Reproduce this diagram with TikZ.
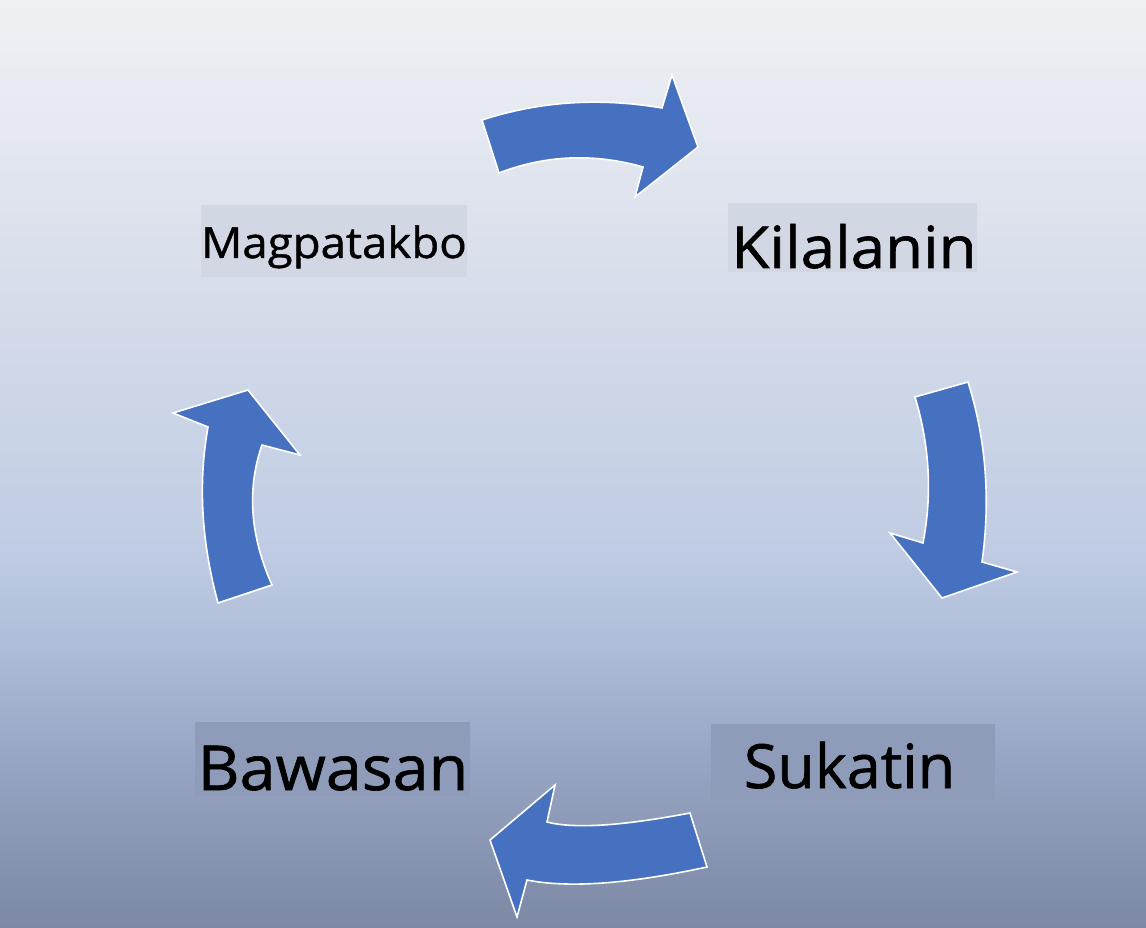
\documentclass[tikz,border=0pt]{standalone}
\usepackage{fontspec}
\setmainfont{Open Sans}
\newfontfamily\lblfont{Open Sans}[FakeBold=1.0]
\definecolor{arrowblue}{RGB}{70,113,192}
\definecolor{boxtop}{RGB}{210,215,228}
\definecolor{boxbot}{RGB}{142,156,186}
\pgfdeclareverticalshading{bgshade}{100bp}{%
  color(0bp)=(rgb,255:red,124;green,136;blue,164);
  color(25bp)=(rgb,255:red,124;green,136;blue,164);
  color(34.5bp)=(rgb,255:red,152;green,167;blue,198);
  color(40bp)=(rgb,255:red,174;green,188;blue,215);
  color(45.5bp)=(rgb,255:red,192;green,204;blue,228);
  color(59bp)=(rgb,255:red,214;green,221;blue,234);
  color(75bp)=(rgb,255:red,240;green,241;blue,245);
  color(100bp)=(rgb,255:red,240;green,241;blue,245)}
\tikzset{
  blockarrow/.style={fill=arrowblue, draw=white, line width=1.6pt, line join=miter},
  labelbox/.style={inner sep=0pt, outer sep=0pt, draw=none},
  labeltext/.style={inner sep=0pt, outer sep=0pt, anchor=base, text=black, font=\lblfont}
}
\begin{document}
\begin{tikzpicture}[x=1pt,y=-1pt]
\useasboundingbox (0,0) rectangle (1146,928);
\shade[shading=bgshade] (0,0) rectangle (1146,928);
% label boxes
\node[labelbox, fill=boxtop, minimum width=266pt, minimum height=72pt] (magbox) at (334,241) {};
\node[labelbox, fill=boxtop, minimum width=249pt, minimum height=69pt] (kilbox) at (852.5,237.5) {};
\node[labelbox, fill=boxbot, minimum width=275pt, minimum height=74pt] (bawbox) at (332.5,759) {};
\node[labelbox, fill=boxbot, minimum width=284pt, minimum height=76pt] (sukbox) at (853,762) {};
% texts
\node[labeltext] (mag) at (334,258) {\scalebox{1.06}[1]{\fontsize{43}{50}\selectfont Magpatakbo}};
\node[labeltext] (kil) at (854,268) {\scalebox{1.066}[1]{\fontsize{58}{66}\selectfont Kilalanin}};
\node[labeltext] (baw) at (333,790) {\scalebox{1.043}[1]{\fontsize{62}{70}\selectfont Bawasan}};
\node[labeltext] (suk) at (849.5,788) {\fontsize{61}{70}\selectfont Sukatin};
% top arrow
\draw[blockarrow] (482,120) .. controls (539.3,101.3) and (599.3,97.3) .. (662,108)
  -- (672,75) -- (698,147) -- (635,197) -- (643,167)
  .. controls (593.7,153) and (545.7,155) .. (499,173) -- cycle;
% right arrow
\draw[blockarrow] (968,382) .. controls (986,439.3) and (990.7,499.3) .. (982,562)
  -- (1017,572) -- (942,598) -- (890,533) -- (923,543)
  .. controls (932.3,494.3) and (929.7,445.7) .. (915,397) -- cycle;
% bottom arrow
\draw[blockarrow] (690,813) .. controls (621.7,826) and (574,829) .. (547,822)
  -- (555,785) -- (490,840) -- (517,917) -- (527,880)
  .. controls (568.3,888.3) and (628.3,884) .. (707,867) -- cycle;
% left arrow
\draw[blockarrow] (272,585) .. controls (250,535.7) and (246.7,489) .. (262,445)
  -- (300,455) -- (248,390) -- (173,413) -- (208,427)
  .. controls (198,483) and (201.3,541.7) .. (218,603) -- cycle;
\end{tikzpicture}
\end{document}
